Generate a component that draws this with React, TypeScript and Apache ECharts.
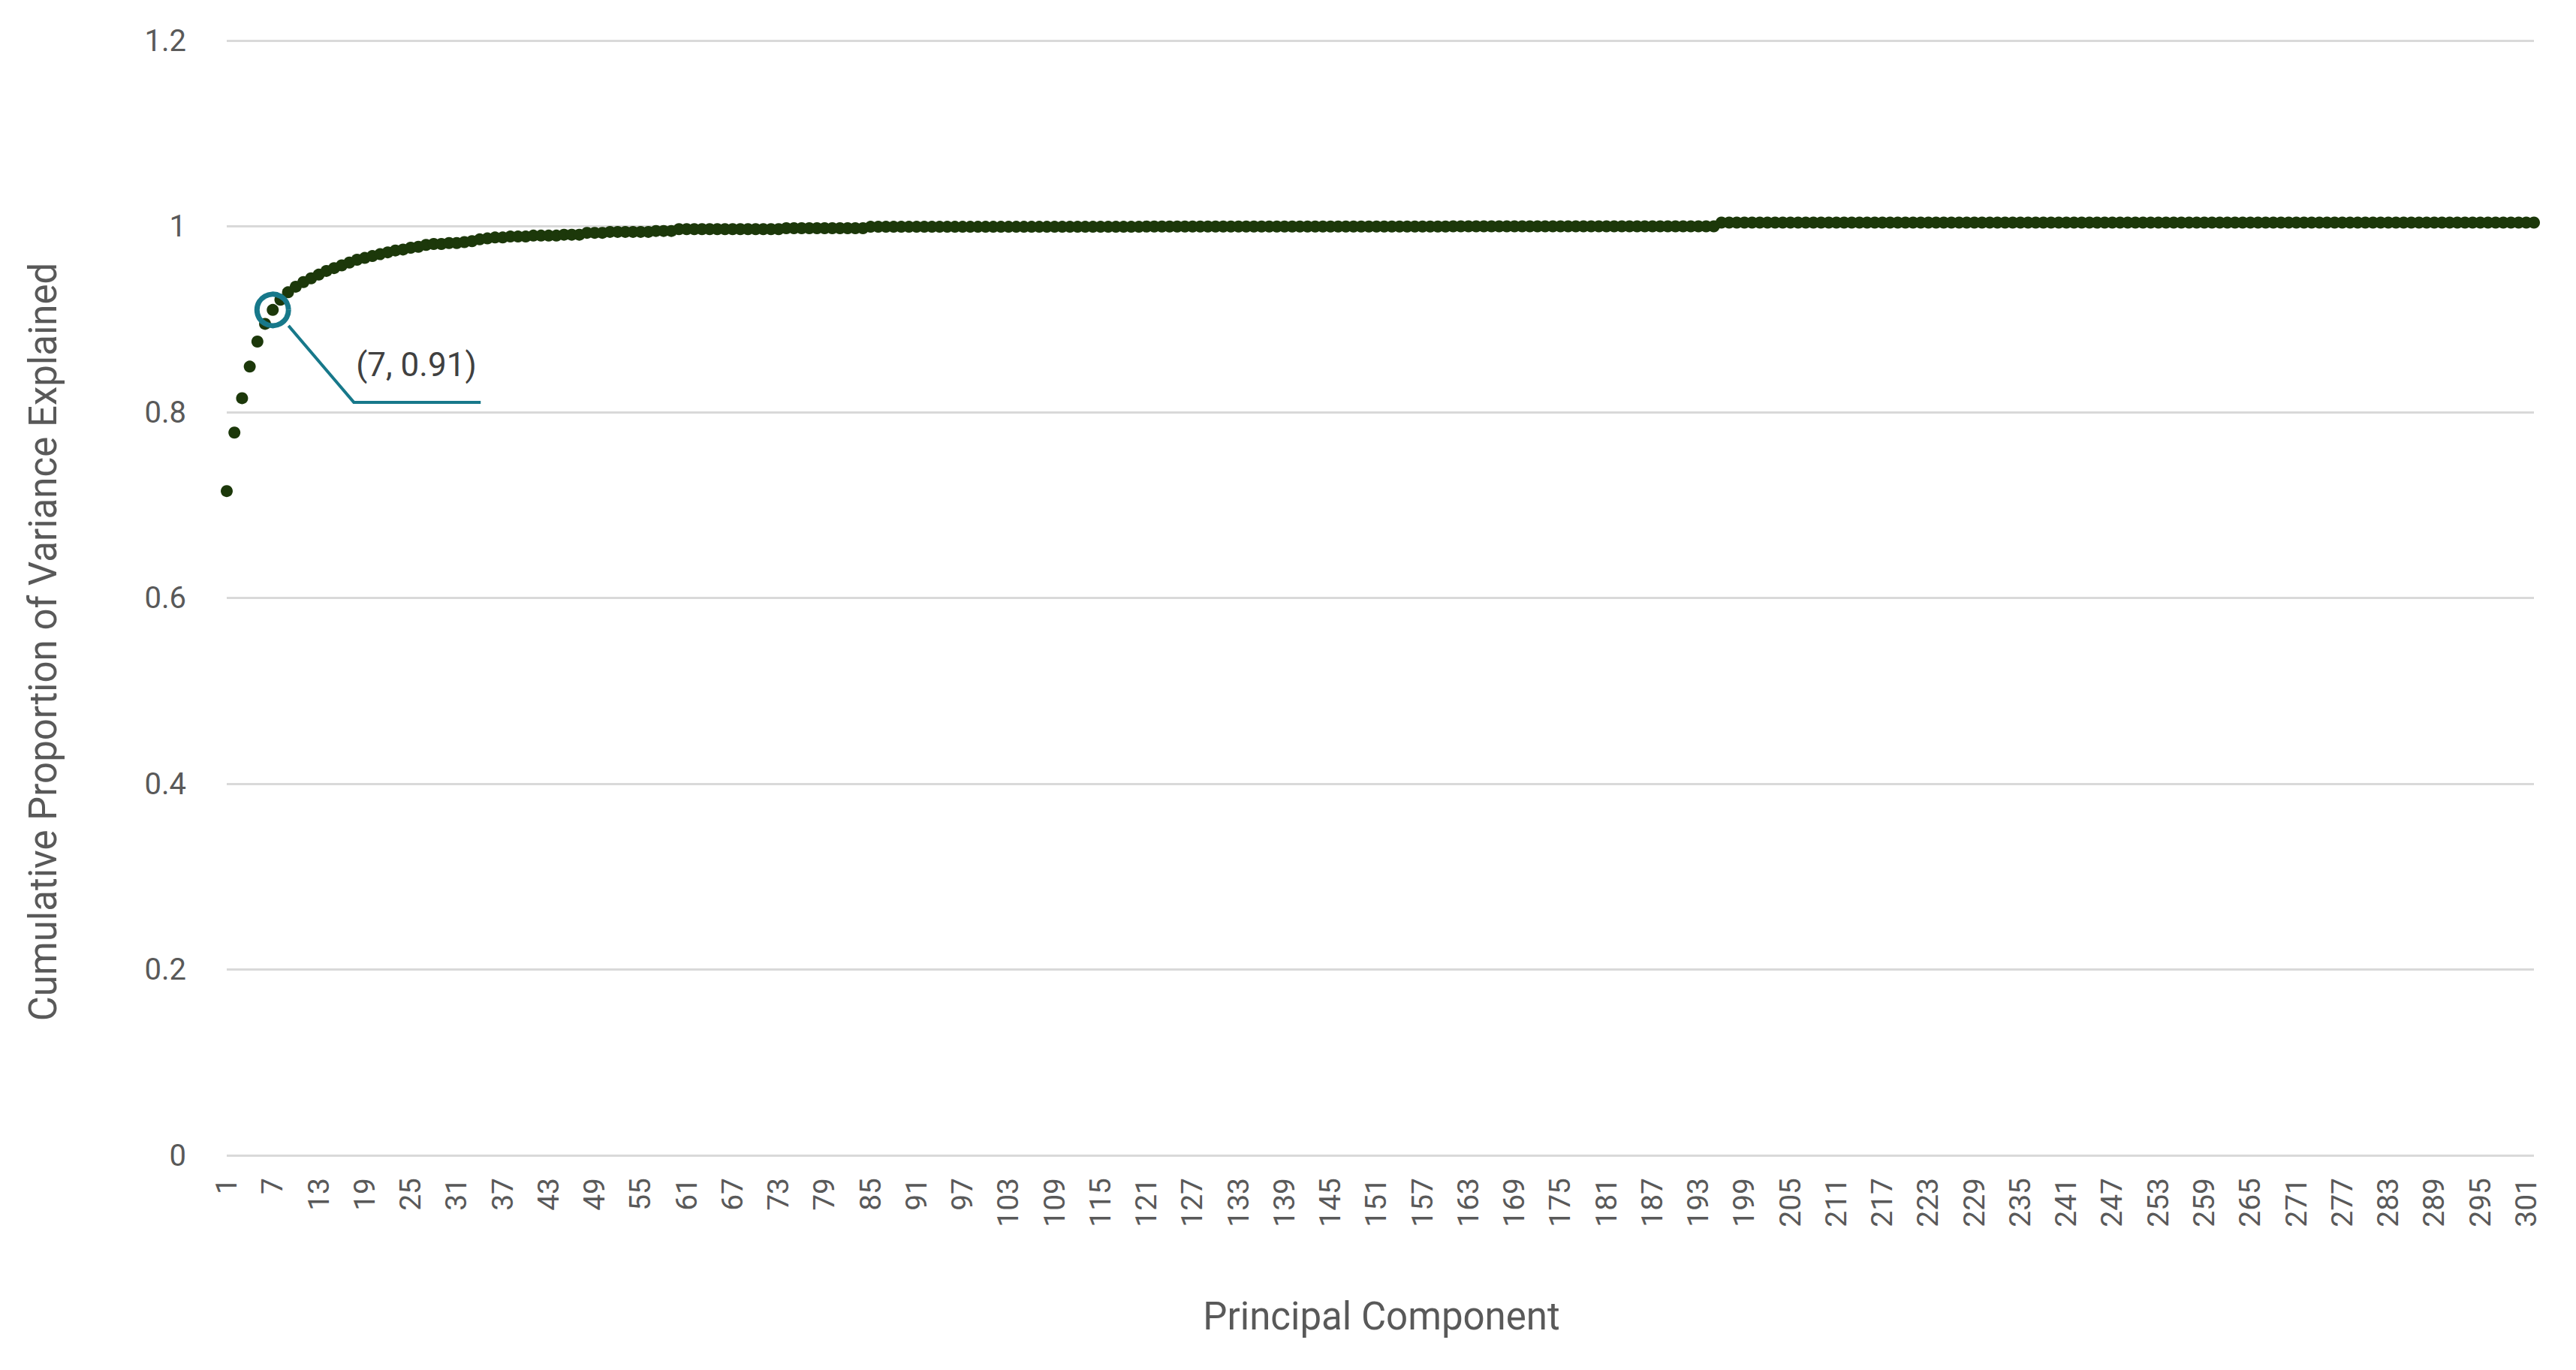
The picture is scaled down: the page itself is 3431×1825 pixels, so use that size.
import React, { useEffect, useRef } from "react";
import * as echarts from "echarts";

// ---- data ----
const componentCount = 302;
const categories: string[] = Array.from({ length: componentCount }, (_, i) => String(i + 1));

const cumulativeVariance: number[] = [
  // 1-10
  0.715, 0.778, 0.815, 0.849, 0.876, 0.895, 0.91, 0.921, 0.929, 0.935,
  // 11-20
  0.94, 0.944, 0.948, 0.952, 0.955, 0.958, 0.961, 0.964, 0.966, 0.968,
  // 21-30
  0.97, 0.972, 0.974, 0.975, 0.977, 0.978, 0.98, 0.981, 0.981, 0.982,
  // 31-40
  0.982, 0.983, 0.984, 0.986, 0.987, 0.988, 0.988, 0.989, 0.989, 0.989,
  // 41-50
  0.99, 0.99, 0.99, 0.99, 0.991, 0.991, 0.991, 0.993, 0.993, 0.993,
  // 51-60
  0.994, 0.994, 0.994, 0.994, 0.994, 0.994, 0.995, 0.995, 0.995, 0.997,
  // 61-70
  0.997, 0.997, 0.997, 0.997, 0.997, 0.997, 0.997, 0.997, 0.997, 0.997,
  // 71-80
  0.997, 0.997, 0.997, 0.998, 0.998, 0.998, 0.998, 0.998, 0.998, 0.998,
  // 81-90
  0.998, 0.998, 0.998, 0.998, 0.9995, 0.9995, 0.9995, 0.9995, 0.9995, 0.9995,
  // 91-100
  0.9995, 0.9995, 0.9995, 0.9995, 0.9995, 0.9995, 0.9995, 0.9995, 0.9995, 0.9995,
  // 101-110
  0.9995, 0.9995, 0.9995, 0.9995, 0.9995, 0.9995, 0.9995, 0.9995, 0.9995, 0.9995,
  // 111-120
  0.9995, 0.9995, 0.9995, 0.9995, 0.9995, 0.9995, 0.9995, 0.9995, 0.9995, 0.9995,
  // 121-130
  0.9998, 0.9998, 0.9998, 0.9998, 0.9998, 0.9998, 0.9998, 0.9998, 0.9998, 0.9998,
  // 131-140
  0.9998, 0.9998, 0.9998, 0.9998, 0.9998, 0.9998, 0.9998, 0.9998, 0.9998, 0.9998,
  // 141-150
  0.9998, 0.9998, 0.9998, 0.9998, 0.9998, 0.9998, 0.9998, 0.9998, 0.9998, 0.9998,
  // 151-160
  0.9998, 0.9998, 0.9998, 0.9998, 0.9998, 0.9998, 0.9998, 0.9998, 0.9998, 0.9998,
  // 161-170
  1.0, 1.0, 1.0, 1.0, 1.0, 1.0, 1.0, 1.0, 1.0, 1.0,
  // 171-180
  1.0, 1.0, 1.0, 1.0, 1.0, 1.0, 1.0, 1.0, 1.0, 1.0,
  // 181-190
  1.0, 1.0, 1.0, 1.0, 1.0, 1.0, 1.0, 1.0, 1.0, 1.0,
  // 191-195
  1.0, 1.0, 1.0, 1.0, 1.0,
  // 196-205
  1.004, 1.004, 1.004, 1.004, 1.004, 1.004, 1.004, 1.004, 1.004, 1.004,
  // 206-215
  1.004, 1.004, 1.004, 1.004, 1.004, 1.004, 1.004, 1.004, 1.004, 1.004,
  // 216-225
  1.004, 1.004, 1.004, 1.004, 1.004, 1.004, 1.004, 1.004, 1.004, 1.004,
  // 226-235
  1.004, 1.004, 1.004, 1.004, 1.004, 1.004, 1.004, 1.004, 1.004, 1.004,
  // 236-245
  1.004, 1.004, 1.004, 1.004, 1.004, 1.004, 1.004, 1.004, 1.004, 1.004,
  // 246-255
  1.004, 1.004, 1.004, 1.004, 1.004, 1.004, 1.004, 1.004, 1.004, 1.004,
  // 256-265
  1.004, 1.004, 1.004, 1.004, 1.004, 1.004, 1.004, 1.004, 1.004, 1.004,
  // 266-275
  1.004, 1.004, 1.004, 1.004, 1.004, 1.004, 1.004, 1.004, 1.004, 1.004,
  // 276-285
  1.004, 1.004, 1.004, 1.004, 1.004, 1.004, 1.004, 1.004, 1.004, 1.004,
  // 286-295
  1.004, 1.004, 1.004, 1.004, 1.004, 1.004, 1.004, 1.004, 1.004, 1.004,
  // 296-302
  1.004, 1.004, 1.004, 1.004, 1.004, 1.004, 1.004,
];

const yMin = 0;
const yMax = 1.2;
const yInterval = 0.2;

const highlightIndex = 6; // component 7
const highlightValue = 0.91;
const highlightLabel = "(7, 0.91)";

const xTitle = "Principal Component";
const yTitle = "Cumulative Proportion of Variance Explained";

// ---- styles ----
const DOT = "#1C380A";
const TEAL = "#17788A";
const AXIS_TEXT = "#595959";
const GRID = "#D9D9D9";
const FONT = "Roboto";

export default function App() {
  const ref = useRef<HTMLDivElement>(null);

  useEffect(() => {
    if (!ref.current) return;
    const chart = echarts.init(ref.current, undefined, { renderer: "svg" });
    chart.setOption({
      animation: false,
      backgroundColor: "#ffffff",
      grid: { left: 302, right: 56, top: 54, bottom: 286 },
      xAxis: {
        type: "category",
        data: categories,
        boundaryGap: false,
        axisLine: { show: false },
        axisTick: { show: false },
        splitLine: { show: false },
        axisLabel: {
          interval: 5,
          rotate: 90,
          margin: 30,
          color: AXIS_TEXT,
          fontFamily: FONT,
          fontSize: 39,
        },
      },
      yAxis: {
        type: "value",
        min: yMin,
        max: yMax,
        interval: yInterval,
        axisLine: { show: false },
        axisTick: { show: false },
        axisLabel: {
          margin: 54,
          color: AXIS_TEXT,
          fontFamily: FONT,
          fontSize: 40,
        },
        splitLine: { show: true, lineStyle: { color: GRID, width: 3 } },
      },
      series: [
        {
          type: "scatter",
          data: cumulativeVariance,
          symbol: "circle",
          symbolSize: 16,
          itemStyle: { color: DOT, opacity: 1 },
          emphasis: { disabled: true },
          z: 2,
        },
        {
          type: "scatter",
          data: [[highlightIndex, highlightValue]],
          symbol: "circle",
          symbolSize: 42,
          itemStyle: { color: "rgba(0,0,0,0)", borderColor: TEAL, borderWidth: 7, opacity: 1 },
          emphasis: { disabled: true },
          z: 3,
        },
      ],
    });

    const p = chart.convertToPixel({ gridIndex: 0 }, [highlightIndex, highlightValue]) as number[];
    const cx = p[0] + 4;
    const cy = p[1] + 3;

    chart.setOption({
      graphic: [
        {
          type: "polyline",
          shape: {
            points: [
              [cx + 17, cy + 18],
              [cx + 104, cy + 120],
              [cx + 273, cy + 120],
            ],
          },
          style: { stroke: TEAL, lineWidth: 4, fill: null },
          z: 10,
        },
        {
          type: "text",
          x: cx + 107,
          y: cy + 70,
          style: {
            text: highlightLabel,
            fill: "#404040",
            font: `44px ${FONT}`,
            textAlign: "left",
            textVerticalAlign: "middle",
          },
          z: 10,
        },
        {
          type: "text",
          x: 1840,
          y: 1753,
          style: {
            text: xTitle,
            fill: AXIS_TEXT,
            font: `51px ${FONT}`,
            textAlign: "center",
            textVerticalAlign: "middle",
          },
        },
        {
          type: "text",
          x: 57,
          y: 855,
          rotation: Math.PI / 2,
          style: {
            text: yTitle,
            fill: AXIS_TEXT,
            font: `51px ${FONT}`,
            textAlign: "center",
            textVerticalAlign: "middle",
          },
        },
      ],
    });

    return () => chart.dispose();
  }, []);

  return (
    <div
      ref={ref}
      style={{ position: "fixed", left: 0, top: 0, width: 3431, height: 1825, background: "#fff" }}
    />
  );
}
